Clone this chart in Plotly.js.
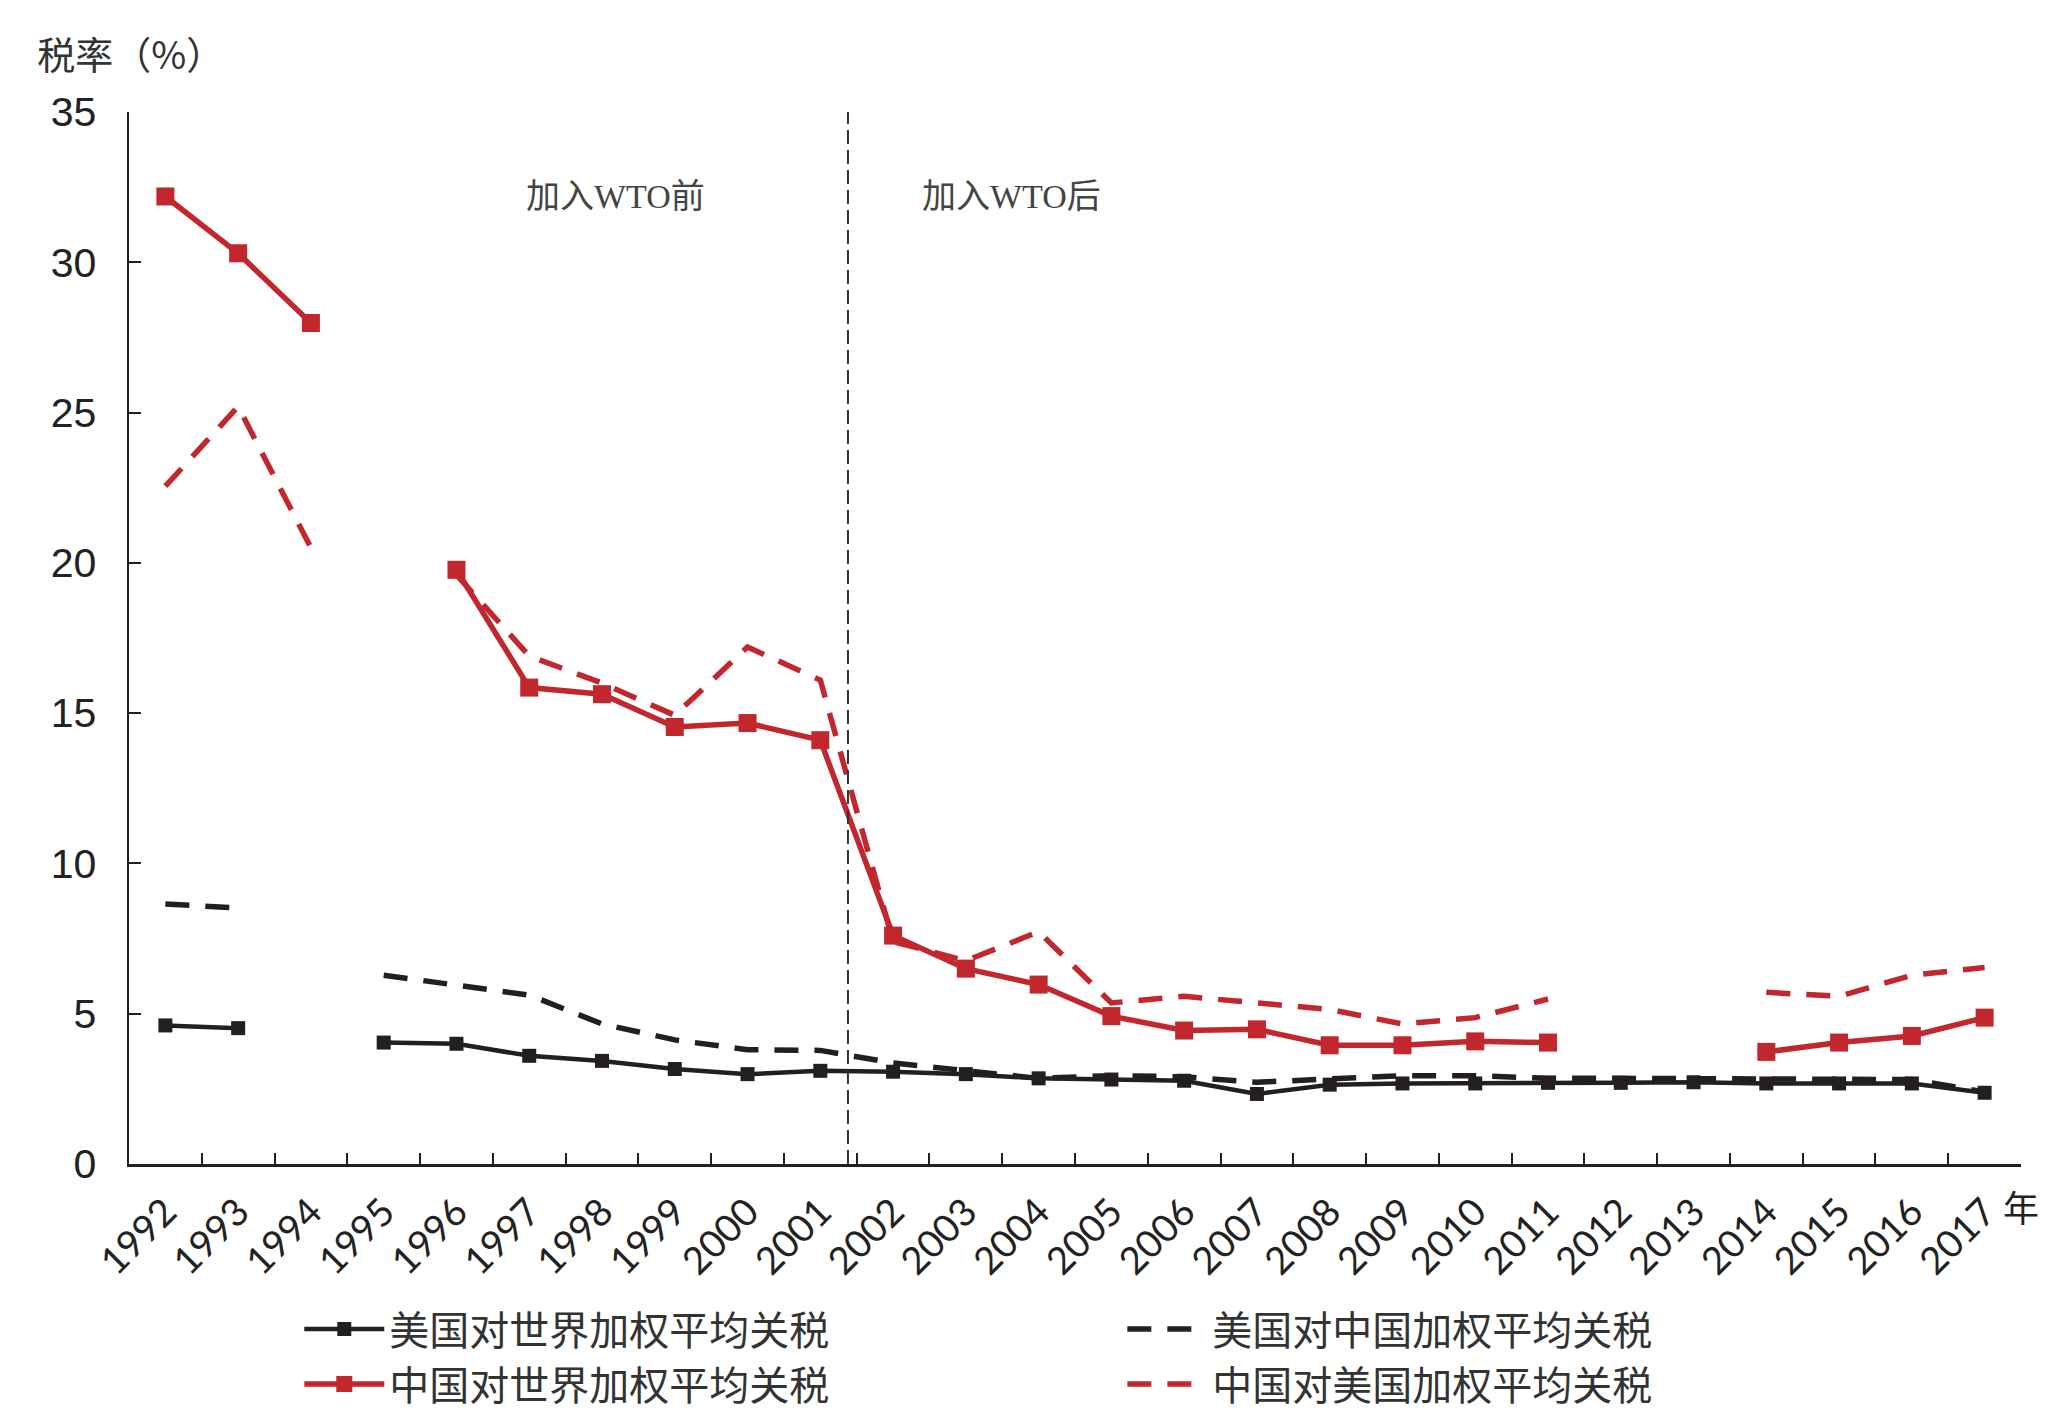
<!DOCTYPE html>
<html>
<head>
<meta charset="utf-8">
<script src="https://cdn.plot.ly/plotly-3.0.1.min.js"></script>
<style>html,body{margin:0;padding:0;background:#fff;}</style>
</head>
<body>
<div id="chart" style="width:2069px;height:1421px;"></div>
<script>
// ---- data ----
var years = ["1992","1993","1994","1995","1996","1997","1998","1999","2000","2001","2002","2003","2004",
             "2005","2006","2007","2008","2009","2010","2011","2012","2013","2014","2015","2016","2017"];

// 美国对世界加权平均关税
var usWorld   = [4.61,4.52,null,4.04,4.00,3.60,3.43,3.16,2.99,3.10,3.07,2.99,2.85,
                 2.81,2.77,2.33,2.64,2.68,2.68,2.70,2.70,2.72,2.68,2.68,2.68,2.37];
// 美国对中国加权平均关税
var usChina   = [8.65,8.52,null,6.28,5.93,5.62,4.66,4.13,3.80,3.78,3.36,3.12,2.85,
                 2.94,2.90,2.72,2.85,2.94,2.94,2.85,2.85,2.85,2.81,2.81,2.81,2.40];
// 中国对世界加权平均关税
var cnWorld   = [32.19,30.30,27.98,null,19.77,15.85,15.63,14.54,14.67,14.10,7.60,6.50,5.97,
                 4.92,4.44,4.48,3.95,3.95,4.08,4.04,null,null,3.73,4.04,4.26,4.87];
// 中国对美国加权平均关税
var cnUS      = [22.55,25.20,20.50,null,19.60,16.90,16.00,14.93,17.20,16.10,7.40,6.76,7.73,
                 5.36,5.58,5.36,5.14,4.66,4.87,5.49,null,null,5.71,5.58,6.28,6.54];

var seriesNames = ["美国对世界加权平均关税","美国对中国加权平均关税","中国对世界加权平均关税","中国对美国加权平均关税"];
var yTicks = [0,5,10,15,20,25,30,35];
var wtoDivider = 9.38;   // category position of WTO accession divider (between 2001 and 2002)
var periodLabels = ["加入WTO前","加入WTO后"];
var periodLabelX = [6.19, 11.63];
var periodLabelY = 32.2;

// ---- styles ----
var RED = "#c1272d", BLACK = "#231f20";

var traces = [
  {x: years, y: usWorld, name: seriesNames[0], type: "scatter", mode: "lines+markers",
   line: {color: BLACK, width: 4.5}, marker: {symbol: "square", size: 14, color: BLACK},
   legend: "legend"},
  {x: years, y: cnWorld, name: seriesNames[2], type: "scatter", mode: "lines+markers",
   line: {color: RED, width: 5.5}, marker: {symbol: "square", size: 18, color: RED},
   legend: "legend"},
  {x: years, y: usChina, name: seriesNames[1], type: "scatter", mode: "lines",
   line: {color: BLACK, width: 5.5, dash: "24px,16px"}, legend: "legend2"},
  {x: years, y: cnUS, name: seriesNames[3], type: "scatter", mode: "lines",
   line: {color: RED, width: 5.5, dash: "24px,16px"}, legend: "legend2"}
];
// draw order: dashed under solid
var ordered = [traces[2], traces[3], traces[0], traces[1]];

var legendCommon = {
  orientation: "v", yanchor: "top", xanchor: "left",
  font: {family: "Noto Sans CJK SC", size: 40, color: "#333"},
  itemwidth: 80, tracegroupgap: 0, bgcolor: "rgba(0,0,0,0)", borderwidth: 0,
  traceorder: "normal"
};

var layout = {
  width: 2069, height: 1421,
  margin: {l: 129, r: 48, t: 112, b: 257, autoexpand: false},
  paper_bgcolor: "#fff", plot_bgcolor: "#fff",
  showlegend: true,
  title: {text: "税率（%）", x: 0.018, xanchor: "left", xref: "container",
          y: 0.961, yanchor: "middle", yref: "container",
          font: {family: "Noto Sans CJK SC", size: 38, color: "#333"}},
  xaxis: {
    type: "category", range: [-0.5, 25.5], tickson: "boundaries", automargin: false,
    showline: true, linecolor: BLACK, linewidth: 2.5, mirror: false,
    ticks: "inside", ticklen: 11, tickwidth: 2, tickcolor: BLACK,
    tickangle: -45, ticklabelstandoff: 8,
    tickfont: {family: "Lato", size: 38, color: "#222"},
    showgrid: false, zeroline: false, fixedrange: true
  },
  yaxis: {
    range: [0, 35], tickvals: yTicks, ticktext: yTicks.map(String), automargin: false,
    showline: true, linecolor: BLACK, linewidth: 2.5,
    ticks: "inside", ticklen: 12, tickwidth: 2, tickcolor: BLACK,
    ticklabelstandoff: 22,
    tickfont: {family: "Liberation Sans", size: 41, color: "#222"},
    showgrid: false, zeroline: false, fixedrange: true
  },
  legend: Object.assign({}, legendCommon, {x: 0.09, y: -0.126}),
  legend2: Object.assign({}, legendCommon, {x: 0.525, y: -0.126}),
  shapes: [{type: "line", xref: "x", yref: "y", x0: wtoDivider, x1: wtoDivider, y0: 0, y1: 35,
            line: {color: "#333", width: 2, dash: "14px,6px"}}],
  annotations: [
    {text: periodLabels[0], x: periodLabelX[0], y: periodLabelY, xref: "x", yref: "y",
     showarrow: false, xanchor: "center", yanchor: "middle",
     font: {family: "Liberation Serif, Noto Sans CJK SC", size: 34, color: "#444"}},
    {text: periodLabels[1], x: periodLabelX[1], y: periodLabelY, xref: "x", yref: "y",
     showarrow: false, xanchor: "center", yanchor: "middle",
     font: {family: "Liberation Serif, Noto Sans CJK SC", size: 34, color: "#444"}},
    {text: "年", x: 1.0, y: -0.04, xref: "paper", yref: "paper", showarrow: false,
     xanchor: "center", yanchor: "middle",
     font: {family: "Noto Sans CJK SC", size: 36, color: "#222"}}
  ]
};

Plotly.newPlot("chart", ordered, layout, {displayModeBar: false, staticPlot: true});
</script>
</body>
</html>
